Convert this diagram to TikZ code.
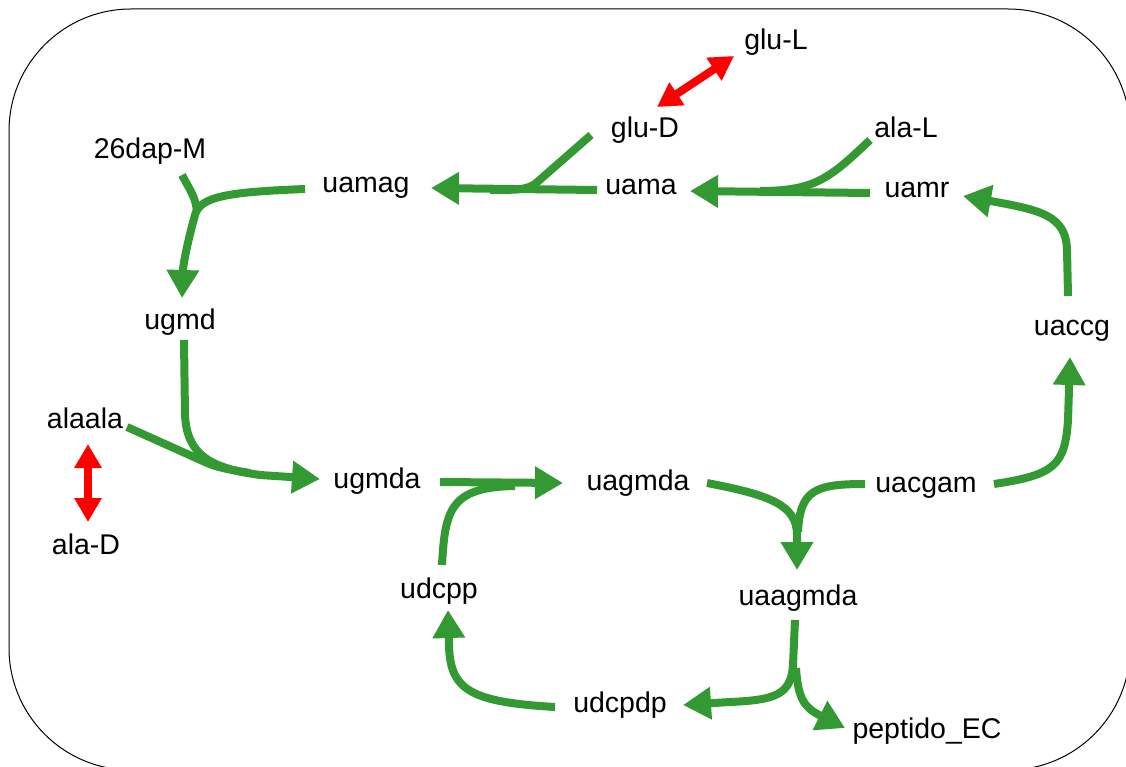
\documentclass[tikz,border=0pt]{standalone}
\usepackage{fontspec}
\setmainfont{Liberation Sans}
\usetikzlibrary{arrows.meta}
\definecolor{flowgreen}{RGB}{51,153,51}
\begin{document}
\begin{tikzpicture}[x=1pt,y=-1pt,
  lbl/.style={anchor=base,inner sep=0pt,font=\fontsize{28.5}{34}\selectfont},
  flow/.style={draw=flowgreen,line width=8pt},
  flowarr/.style={flow,-{Triangle[length=28pt,width=31pt]}},
  react/.style={draw=red,line width=8pt,{Triangle[length=24pt,width=26pt]}-{Triangle[length=24pt,width=26pt]}}]
\useasboundingbox (0,0) rectangle (1126,767);
\begin{scope}
\clip (0,0) rectangle (1126,767);
\draw[line width=1pt,rounded corners=122pt] (9,9) rectangle (1130,770);
\end{scope}
% nodes
\node[lbl] (gluL) at (776,50) {glu-L};
\node[lbl] (gluD) at (645,138) {glu-D};
\node[lbl] (alaL) at (906,138) {ala-L};
\node[lbl] (dap) at (150,159) {26dap-M};
\node[lbl] (uamag) at (366,193) {uamag};
\node[lbl] (uama) at (641,195) {uama};
\node[lbl] (uamr) at (917,198) {uamr};
\node[lbl] (ugmd) at (180,329) {ugmd};
\node[lbl] (uaccg) at (1072,335) {uaccg};
\node[lbl] (alaala) at (85,428) {alaala};
\node[lbl] (ugmda) at (377,488) {ugmda};
\node[lbl] (uagmda) at (638,490) {uagmda};
\node[lbl] (uacgam) at (926,492) {uacgam};
\node[lbl] (alaD) at (86,554) {ala-D};
\node[lbl] (udcpp) at (439,598) {udcpp};
\node[lbl] (uaagmda) at (798,605) {uaagmda};
\node[lbl] (udcpdp) at (620,712) {udcpdp};
\node[lbl] (pept) at (927,738) {peptido\_EC};
% uamr -> uama (+ ala-L)
\draw[flow] ([shift={(-36,2)}]alaL.base) .. controls (830,178) and (815,191) .. (760,191);
\draw[flowarr] ([shift={(-47,-5)}]uamr.base) -- ([shift={(49,-4)}]uama.base);
% uama -> uamag (+ glu-D)
\draw[flow] ([shift={(-54,-3)}]gluD.base) -- (535,184) .. controls (526,190) and (515,190) .. (490,190);
\draw[flowarr] ([shift={(-44,-5)}]uama.base) -- ([shift={(65,-5)}]uamag.base);
% uamag -> ugmd (+ 26dap-M)
\draw[flow] ([shift={(32,16)}]dap.base) .. controls (190,190) and (196,198) .. (197,212);
\draw[flowarr] ([shift={(-61,-4)}]uamag.base) .. controls (230,192) and (200,196) .. (195,215) .. controls (188,240) and (183,265) .. ([shift={(2,-31)}]ugmd.base);
% ugmd -> ugmda (+ alaala)
\draw[flow] ([shift={(42,-1)}]alaala.base) -- (205,462) .. controls (215,467) and (230,470) .. (250,473);
\draw[flowarr] ([shift={(4,11)}]ugmd.base) -- (185,415) .. controls (187,455) and (210,468) .. (260,475) -- ([shift={(-57,-9)}]ugmda.base);
% ugmda -> uagmda (+ udcpp)
\draw[flow] ([shift={(3,-33)}]udcpp.base) .. controls (445,510) and (450,487) .. (515,486);
\draw[flowarr] ([shift={(63,-6)}]ugmda.base) -- ([shift={(-75,-7)}]uagmda.base);
% udcpdp -> udcpp
\draw[flowarr] ([shift={(-65,-5)}]udcpdp.base) .. controls (470,702) and (450,690) .. (449,645) -- ([shift={(9,12)}]udcpp.base);
% uagmda -> uaagmda (+ uacgam)
\draw[flow] ([shift={(-61,-8)}]uacgam.base) .. controls (815,484) and (800,490) .. (798,532);
\draw[flowarr] ([shift={(69,-7)}]uagmda.base) .. controls (770,495) and (797,505) .. (797,535) -- ([shift={(-1,-35)}]uaagmda.base);
% uaagmda -> udcpdp, peptido_EC
\draw[flowarr] ([shift={(-3,15)}]uaagmda.base) -- (793,665) .. controls (791,695) and (775,700) .. (730,702) -- ([shift={(63,-7)}]udcpdp.base);
\draw[flowarr] (796,668) .. controls (798,700) and (805,708) .. ([shift={(-82,-10)}]pept.base);
% uacgam -> uaccg
\draw[flowarr] ([shift={(68,-8)}]uacgam.base) .. controls (1055,475) and (1065,465) .. (1068,420) -- ([shift={(-2,22)}]uaccg.base);
% uaccg -> uamr
\draw[flowarr] ([shift={(-4,-39)}]uaccg.base) -- (1067,250) .. controls (1066,215) and (1040,210) .. ([shift={(46,-2)}]uamr.base);
% reversible reactions
\draw[react] ([shift={(-42,6)}]gluL.base) -- ([shift={(12,-31)}]gluD.base);
\draw[react] ([shift={(3,16)}]alaala.base) -- ([shift={(2,-32)}]alaD.base);
\end{tikzpicture}
\end{document}
